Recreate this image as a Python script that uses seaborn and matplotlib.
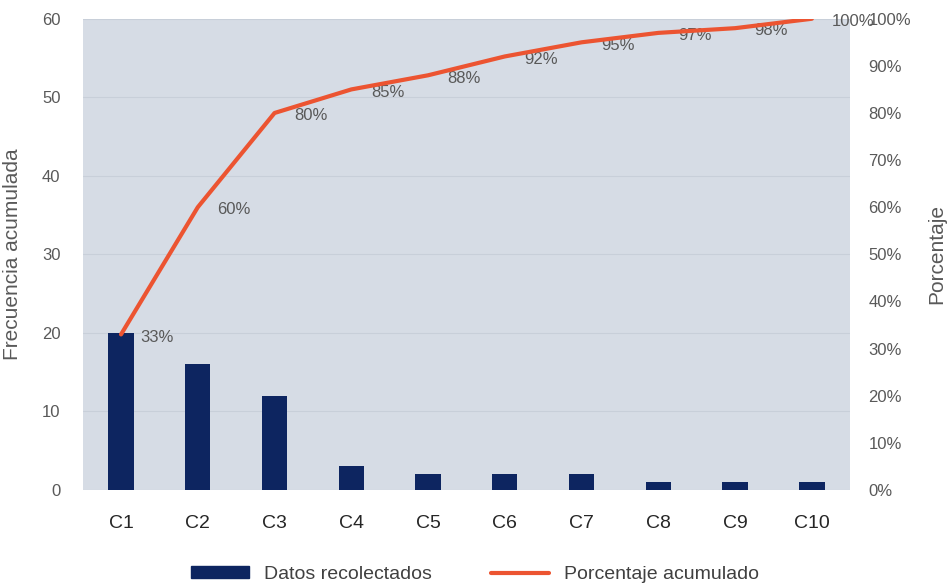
import numpy as np
import pandas as pd
import seaborn as sns
import matplotlib.pyplot as plt
from matplotlib.patches import Patch
from matplotlib.lines import Line2D

# Data
categorias = ["C1", "C2", "C3", "C4", "C5", "C6", "C7", "C8", "C9", "C10"]
frecuencia = [20, 16, 12, 3, 2, 2, 2, 1, 1, 1]
porcentaje = [33, 60, 80, 85, 88, 92, 95, 97, 98, 100]

df = pd.DataFrame({"Categoria": categorias, "Frecuencia": frecuencia, "Porcentaje": porcentaje})

sns.set_theme(style="white")
plt.rcParams["font.family"] = ["Liberation Sans", "DejaVu Sans"]

bar_color = "#0d2560"
line_color = "#ec5431"
gray = "#595959"

fig, ax = plt.subplots(figsize=(9.5, 5.86), dpi=100)
fig.subplots_adjust(left=0.087, right=0.895, top=0.968, bottom=0.164)

ax.set_facecolor("#d6dce5")
sns.barplot(data=df, x="Categoria", y="Frecuencia", color=bar_color, width=0.33,
            saturation=1, linewidth=0, ax=ax, zorder=3)
ax.set_ylim(0, 60)
ax.set_yticks(range(0, 61, 10))
ax.yaxis.grid(True, color="#c8cfd9", linewidth=0.8, zorder=0)
ax.set_axisbelow(True)
ax.set_xlabel("")
ax.set_ylabel("Frecuencia acumulada", fontsize=15, color=gray, labelpad=14)
ax.tick_params(axis="y", length=0, labelsize=12, labelcolor=gray, pad=16)
ax.tick_params(axis="x", length=0, labelsize=14, labelcolor="#262626", pad=18)
ax.set_xlim(-0.5, 9.5)

# Cumulative percentage line on secondary axis
ax2 = ax.twinx()
sns.lineplot(data=df, x="Categoria", y="Porcentaje", color=line_color, linewidth=3,
             ax=ax2, zorder=4)
ax2.set_ylim(0, 100)
ax2.set_yticks(range(0, 101, 10))
ax2.set_yticklabels([f"{v}%" for v in range(0, 101, 10)])
ax2.set_ylabel("Porcentaje", fontsize=15, color=gray, labelpad=12)
ax2.tick_params(axis="y", length=0, labelsize=12, labelcolor=gray, pad=13)
ax2.set_xlim(-0.5, 9.5)

for i, p in enumerate(porcentaje):
    ax2.annotate(f"{p}%", (i, p), xytext=(14, -2), textcoords="offset points",
                 ha="left", va="center", fontsize=12, color=gray, annotation_clip=False)

for a in (ax, ax2):
    for s in a.spines.values():
        s.set_visible(False)

handles = [Patch(facecolor=bar_color, edgecolor=bar_color),
           Line2D([0], [0], color=line_color, linewidth=3)]
fig.legend(handles, ["Datos recolectados", "Porcentaje acumulado"], loc="lower center",
           bbox_to_anchor=(0.5, -0.025), ncol=2, frameon=False, fontsize=14,
           handlelength=3, handleheight=0.6, columnspacing=3, labelcolor="#404040")

plt.savefig("out.png", dpi=100)
